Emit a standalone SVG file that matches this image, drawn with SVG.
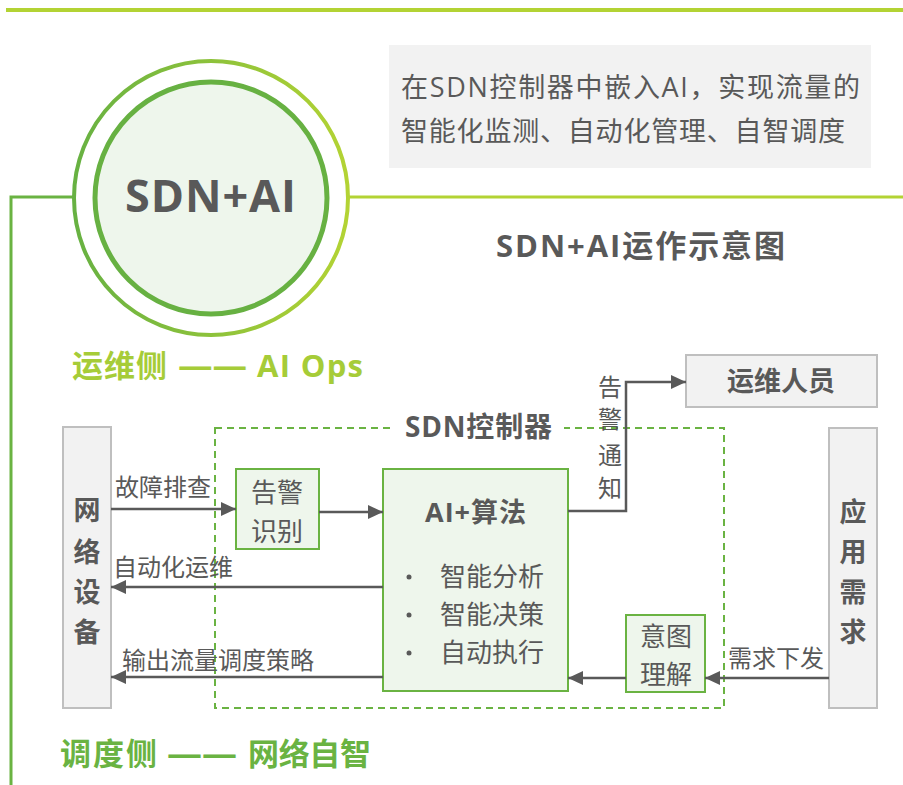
<svg xmlns="http://www.w3.org/2000/svg" width="903" height="785" viewBox="0 0 903 785">
<defs>
<linearGradient id="ring" x1="0" y1="0" x2="1" y2="0">
<stop offset="0" stop-color="#67b142"/>
<stop offset="1" stop-color="#b3d334"/>
</linearGradient>
<linearGradient id="bottom" x1="0" y1="0" x2="1" y2="0">
<stop offset="0" stop-color="#6ab342" stop-opacity="0"/>
<stop offset="0.5" stop-color="#6ab342" stop-opacity="0.7"/>
<stop offset="1" stop-color="#6ab342"/>
</linearGradient>
<marker id="arr" markerUnits="userSpaceOnUse" markerWidth="16" markerHeight="16" viewBox="0 0 16 16" refX="15" refY="8" orient="auto">
<path d="M0,1 L15,8 L0,15 Z" fill="#595959"/>
</marker>
<style>
text{font-family:"Open Sans","Noto Sans CJK SC",sans-serif;fill:#595959}
.b{font-weight:bold}
.lbl{font-size:24px}
.gray{fill:#f2f2f2;stroke:#bfbfbf;stroke-width:2}
.grn{fill:#eef6ec;stroke:#6ab342;stroke-width:2}
.con{fill:none;stroke:#595959;stroke-width:2.5}
.ops{fill:#a6cc38;font-weight:bold;font-size:31px}
.sch{fill:#6ab342;font-weight:bold;font-size:31px}
</style>
</defs>
<rect width="903" height="785" fill="#ffffff"/>
<!-- frame lines -->
<line x1="6" y1="10" x2="903" y2="10" stroke="#b3d334" stroke-width="4"/>
<line x1="80" y1="783" x2="903" y2="783" stroke="url(#bottom)" stroke-width="2"/>
<polyline points="11,785 11,197 74,197" fill="none" stroke="#6ab342" stroke-width="3"/>
<line x1="348" y1="197" x2="903" y2="197" stroke="#b3d334" stroke-width="3"/>
<!-- central circle -->
<g id="sdnai-circle">
<circle cx="211" cy="198" r="137" fill="#ffffff" stroke="url(#ring)" stroke-width="4"/>
<circle cx="211" cy="198" r="116" fill="#eef6ec" stroke="#67b142" stroke-width="5"/>
<text x="125" y="212" class="b" font-size="45" textLength="171">SDN+AI</text>
</g>
<g id="desc">
<rect x="389" y="45" width="482" height="123" fill="#f2f2f2"/>
<text x="401" y="97" font-size="27" textLength="459">在SDN控制器中嵌入AI，实现流量的</text>
<text x="401" y="141" font-size="27" textLength="444">智能化监测、自动化管理、自智调度</text>
</g>
<text id="title" x="496" y="257" class="b" font-size="31" textLength="289">SDN+AI运作示意图</text>
<g id="ops-label">
<text x="72" y="377" class="ops" textLength="95">运维侧</text>
<text x="178" y="377" class="ops" textLength="69" lengthAdjust="spacingAndGlyphs">——</text>
<text x="257" y="377" class="ops" textLength="106">AI Ops</text>
</g>
<g id="sched-label">
<text x="60" y="765" class="sch" textLength="97">调度侧</text>
<text x="167" y="765" class="sch" textLength="70" lengthAdjust="spacingAndGlyphs">——</text>
<text x="248" y="765" class="sch" textLength="123">网络自智</text>
</g>
<!-- SDN controller dashed box -->
<g id="sdn-controller">
<rect x="215" y="428" width="509" height="280" fill="none" stroke="#6ab342" stroke-width="2" stroke-dasharray="7 5"/>
<rect x="392" y="414" width="172" height="28" fill="#ffffff"/>
<text x="405" y="437" class="b" font-size="28" textLength="147">SDN控制器</text>
</g>
<g id="network-device">
<rect x="63" y="427" width="48" height="281" class="gray"/>
<text x="87" y="520" text-anchor="middle" class="b" font-size="27">网</text>
<text x="87" y="562" text-anchor="middle" class="b" font-size="27">络</text>
<text x="87" y="602" text-anchor="middle" class="b" font-size="27">设</text>
<text x="87" y="642" text-anchor="middle" class="b" font-size="27">备</text>
</g>
<g id="app-demand">
<rect x="829" y="428" width="48" height="280" class="gray"/>
<text x="853" y="522" text-anchor="middle" class="b" font-size="27">应</text>
<text x="853" y="562" text-anchor="middle" class="b" font-size="27">用</text>
<text x="853" y="602" text-anchor="middle" class="b" font-size="27">需</text>
<text x="853" y="642" text-anchor="middle" class="b" font-size="27">求</text>
</g>
<g id="ops-staff">
<rect x="686" y="355" width="191" height="52" class="gray"/>
<text x="781" y="391" text-anchor="middle" class="b" font-size="27">运维人员</text>
</g>
<g id="alarm-recog">
<rect x="236" y="469" width="83" height="80" class="grn"/>
<text x="277" y="502" text-anchor="middle" font-size="26">告警</text>
<text x="277" y="541" text-anchor="middle" font-size="26">识别</text>
</g>
<g id="ai-algo">
<rect x="383" y="469" width="185" height="222" class="grn"/>
<text x="425" y="522" class="b" font-size="27" textLength="101">AI+算法</text>
<circle cx="409" cy="577" r="2.5" fill="#595959"/>
<circle cx="409" cy="615" r="2.5" fill="#595959"/>
<circle cx="409" cy="653" r="2.5" fill="#595959"/>
<text x="440" y="586" font-size="26">智能分析</text>
<text x="440" y="624" font-size="26">智能决策</text>
<text x="440" y="662" font-size="26">自动执行</text>
</g>
<g id="intent">
<rect x="626" y="615" width="79" height="77" class="grn"/>
<text x="666" y="646" text-anchor="middle" font-size="26">意图</text>
<text x="666" y="684" text-anchor="middle" font-size="26">理解</text>
</g>
<!-- connectors -->
<g id="connectors">
<line x1="111" y1="509" x2="236" y2="509" class="con" marker-end="url(#arr)"/>
<line x1="319" y1="512" x2="383" y2="512" class="con" marker-end="url(#arr)"/>
<line x1="383" y1="587" x2="111" y2="587" class="con" marker-end="url(#arr)"/>
<line x1="383" y1="677" x2="111" y2="677" class="con" marker-end="url(#arr)"/>
<line x1="626" y1="678" x2="568" y2="678" class="con" marker-end="url(#arr)"/>
<line x1="829" y1="678" x2="705" y2="678" class="con" marker-end="url(#arr)"/>
<polyline points="568,511 626,511 626,382 686,382" class="con" marker-end="url(#arr)"/>
<text x="115" y="496" class="lbl">故障排查</text>
<text x="113" y="576" class="lbl">自动化运维</text>
<text x="122" y="669" class="lbl">输出流量调度策略</text>
<text x="728" y="667" class="lbl">需求下发</text>
<text x="610" y="396" text-anchor="middle" class="lbl">告</text>
<text x="610" y="428" text-anchor="middle" class="lbl">警</text>
<text x="610" y="464" text-anchor="middle" class="lbl">通</text>
<text x="610" y="497" text-anchor="middle" class="lbl">知</text>
</g>
</svg>
